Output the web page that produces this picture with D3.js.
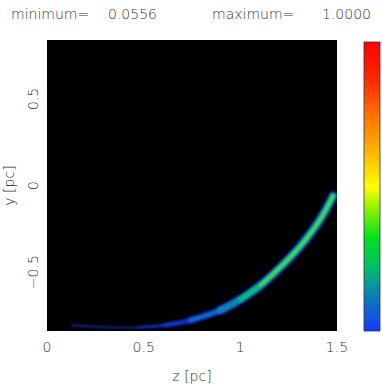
<!DOCTYPE html>
<html>
<head>
<meta charset="UTF-8">
<script src="https://d3js.org/d3.v7.min.js"></script>
<style>
  body { margin: 0; background: #fff; }
  text { font-family: "DejaVu Sans", sans-serif; font-weight: 200; fill: #333; }
</style>
</head>
<body>
<script>
// filament ridge: z [pc], y [pc], peak value (0..1)
var ridgeZ    = [0.13, 0.326, 0.48, 0.61, 0.74, 0.895, 1.0, 1.102, 1.205, 1.308, 1.412, 1.48];
var ridgeY    = [-0.807, -0.819, -0.819, -0.807, -0.779, -0.721, -0.658, -0.578, -0.474, -0.353, -0.198, -0.06];
var ridgePeak = [0.07, 0.09, 0.12, 0.16, 0.23, 0.31, 0.37, 0.41, 0.44, 0.45, 0.45, 0.43];

var xTicks = [0, 0.5, 1, 1.5];
var yTicks = [-0.5, 0, 0.5];
var minVal = 0.0556, maxVal = 1.0;

// colour table (IDL-like rainbow)
var cStops  = [0, 0.12, 0.22, 0.32, 0.42, 0.5, 0.62, 0.75, 0.87, 1];
var cColors = ["#1838ff", "#0a7fb5", "#00bf6a", "#00e020", "#8cf000", "#ffff00",
               "#ffb400", "#ff7000", "#ff2800", "#ff0000"];

var W = 382, H = 385;
var plot = {x: 47, y: 40, w: 290, h: 291};

var svg = d3.select("body").append("svg")
    .attr("width", W).attr("height", H);

var x = d3.scaleLinear().domain([0, 1.5]).range([plot.x, plot.x + plot.w]);
var y = d3.scaleLinear().domain([-0.84, 0.84]).range([plot.y + plot.h, plot.y]);
var color = d3.scaleLinear().domain(cStops).range(cColors);

// header
svg.append("text").attr("x", 11).attr("y", 19).style("font-size", "14px").text("minimum=");
svg.append("text").attr("x", 108).attr("y", 19).style("font-size", "14px").text(minVal.toFixed(4));
svg.append("text").attr("x", 212).attr("y", 19).style("font-size", "14px").text("maximum=");
svg.append("text").attr("x", 322).attr("y", 19).style("font-size", "14px").text(maxVal.toFixed(4));

var defs = svg.append("defs");
defs.append("clipPath").attr("id", "clip")
  .append("rect").attr("x", plot.x).attr("y", plot.y).attr("width", plot.w).attr("height", plot.h);
defs.append("filter").attr("id", "soft")
  .append("feGaussianBlur").attr("stdDeviation", 0.8);

svg.append("rect")
    .attr("x", plot.x).attr("y", plot.y)
    .attr("width", plot.w).attr("height", plot.h)
    .attr("fill", "#000");

var pts = ridgeZ.map(function (d, i) {
    return {z: d, y: ridgeY[i], p: ridgePeak[i]};
});

var line = d3.line()
    .x(function (d) { return x(d.z); })
    .y(function (d) { return y(d.y); })
    .curve(d3.curveCatmullRom);

// layers: threshold, stroke width, colour
var layers = [
    {lv: 0.0,  w: 2.2, c: "#1a2ca0", dash: "1.5 2.5"},
    {lv: 0.11, w: 3,   c: "#0a2cb0"},
    {lv: 0.15, w: 5,   c: "#0a30c4"},
    {lv: 0.22, w: 7,   c: "#0c34d8"},
    {lv: 0.3,  w: 9,   c: "#0c34d8"},
    {lv: 0.22, w: 3,   c: color(0.1)},
    {lv: 0.3,  w: 6,   c: color(0.13)},
    {lv: 0.35, w: 4.2, c: color(0.25)},
    {lv: 0.4,  w: 2.1, c: color(0.38)}
];

var g = svg.append("g").attr("clip-path", "url(#clip)")
    .append("g").attr("filter", "url(#soft)");

layers.forEach(function (L) {
    var run = pts.filter(function (d) { return d.p >= L.lv; });
    if (run.length < 2) return;
    g.append("path")
        .attr("d", line(run))
        .attr("fill", "none")
        .attr("stroke", L.c)
        .attr("stroke-width", L.w)
        .attr("stroke-linecap", "round")
        .attr("stroke-linejoin", "round")
        .attr("stroke-dasharray", L.dash || null);
});

// axes labels
svg.selectAll(".xt").data(xTicks).enter().append("text")
    .attr("x", function (d) { return x(d); })
    .attr("y", 352)
    .attr("text-anchor", "middle")
    .style("font-size", "14px")
    .text(function (d) { return d; });

svg.selectAll(".yt").data(yTicks).enter().append("text")
    .attr("transform", function (d) { return "translate(38," + y(d) + ") rotate(-90)"; })
    .attr("text-anchor", "middle")
    .style("font-size", "14px")
    .text(function (d) { return d < 0 ? "\u2212" + Math.abs(d) : d; });

svg.append("text")
    .attr("x", x(0.75)).attr("y", 381)
    .attr("text-anchor", "middle")
    .style("font-size", "14px")
    .text("z  [pc]");

svg.append("text")
    .attr("transform", "translate(14," + y(0) + ") rotate(-90)")
    .attr("text-anchor", "middle")
    .style("font-size", "14px")
    .text("y  [pc]");

// colour bar
var grad = defs.append("linearGradient").attr("id", "cbar")
    .attr("x1", 0).attr("y1", 1).attr("x2", 0).attr("y2", 0);
grad.selectAll("stop").data(cStops).enter().append("stop")
    .attr("offset", function (d) { return d; })
    .attr("stop-color", function (d, i) { return cColors[i]; });

svg.append("rect")
    .attr("x", 364).attr("y", 42)
    .attr("width", 16).attr("height", 289)
    .attr("fill", "url(#cbar)")
    .attr("stroke", "#334").attr("stroke-width", 0.8);
</script>
</body>
</html>
